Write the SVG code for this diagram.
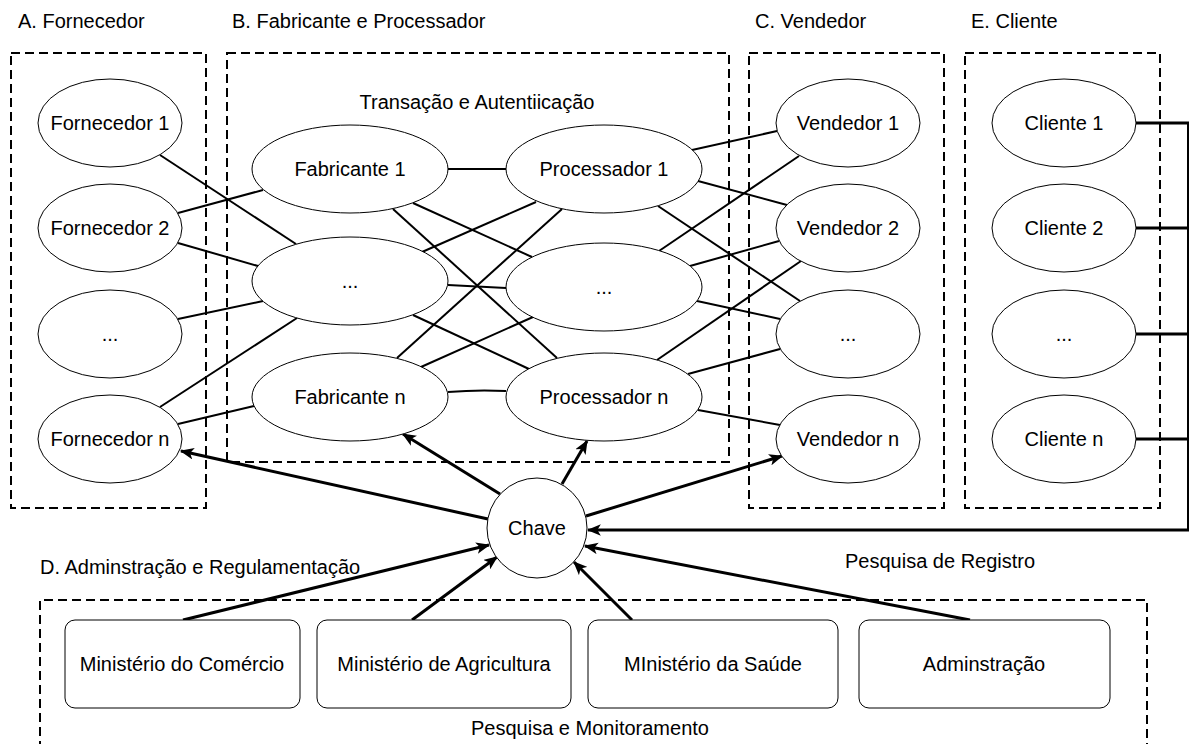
<svg xmlns="http://www.w3.org/2000/svg" width="1190" height="744" viewBox="0 0 1190 744">
  <style>
    text { font-family: "Liberation Sans", Arial, sans-serif; font-size: 20px; fill: #000; }
    .mid { text-anchor: middle; }
    .node { fill: #fff; stroke: #000; stroke-width: 1; }
    .zone { fill: none; stroke: #000; stroke-width: 2; stroke-dasharray: 9 5; }
    .link { fill: none; stroke: #000; stroke-width: 2; }
    .bus { fill: none; stroke: #000; stroke-width: 3; }
    .arrow { fill: none; stroke: #000; stroke-width: 3; marker-end: url(#head); }
  </style>
  <defs>
    <marker id="head" viewBox="0 0 12 10" refX="11" refY="5" markerWidth="14" markerHeight="12" markerUnits="userSpaceOnUse" orient="auto">
      <path d="M0,0 L12,5 L0,10 L3,5 z" fill="#000"/>
    </marker>
  </defs>
  <rect width="1190" height="744" fill="#fff"/>

  <!-- zone frames and headings -->
  <g id="zones">
    <rect class="zone" x="11" y="53" width="195" height="455"/>
    <rect class="zone" x="227" y="53" width="502" height="409"/>
    <rect class="zone" x="749" y="53" width="195" height="455"/>
    <rect class="zone" x="965" y="53" width="195" height="455"/>
    <path class="zone" d="M40,750 V600 H1147 V750"/>
    <text x="18" y="28">A. Fornecedor</text>
    <text x="232" y="28">B. Fabricante e Processador</text>
    <text x="755" y="28">C. Vendedor</text>
    <text x="971" y="28">E. Cliente</text>
    <text class="mid" x="477" y="109">Transação e Autentiicação</text>
    <text x="40" y="574">D. Adminstração e Regulamentação</text>
    <text x="845" y="568">Pesquisa de Registro</text>
    <text class="mid" x="590" y="735">Pesquisa e Monitoramento</text>
  </g>

  <!-- connectors -->
  <g id="connectors">
    <!-- suppliers to manufacturers -->
    <line class="link" x1="160" y1="155" x2="296" y2="244"/>
    <line class="link" x1="178" y1="213" x2="263" y2="190"/>
    <line class="link" x1="178" y1="243" x2="258" y2="266"/>
    <line class="link" x1="178" y1="319" x2="263" y2="301"/>
    <line class="link" x1="160" y1="407" x2="297" y2="318"/>
    <line class="link" x1="178" y1="424" x2="254" y2="406"/>
    <!-- manufacturers to processors -->
    <line class="link" x1="448" y1="169" x2="506" y2="169"/>
    <line class="link" x1="448" y1="285" x2="506" y2="288"/>
    <path class="link" d="M448,392 Q477,389.5 506,391"/>
    <line class="link" x1="413" y1="203" x2="532" y2="257"/>
    <line class="link" x1="393" y1="209" x2="557" y2="358"/>
    <line class="link" x1="422" y1="252" x2="536" y2="202"/>
    <line class="link" x1="413" y1="315" x2="529" y2="369"/>
    <line class="link" x1="397" y1="358" x2="562" y2="209"/>
    <line class="link" x1="421" y1="367" x2="533" y2="317"/>
    <!-- processors to sellers -->
    <line class="link" x1="692" y1="150" x2="777" y2="131"/>
    <line class="link" x1="698" y1="181" x2="787" y2="205"/>
    <line class="link" x1="658" y1="206" x2="800" y2="301"/>
    <line class="link" x1="659" y1="251" x2="799" y2="156"/>
    <line class="link" x1="690" y1="266" x2="779" y2="241"/>
    <line class="link" x1="697" y1="301" x2="780" y2="319"/>
    <line class="link" x1="657" y1="360" x2="801" y2="261"/>
    <line class="link" x1="688" y1="374" x2="780" y2="349"/>
    <line class="link" x1="698" y1="410" x2="780" y2="425"/>
    <!-- customers bus -->
    <line class="bus" x1="1136" y1="123" x2="1189" y2="123"/>
    <line class="bus" x1="1136" y1="228" x2="1189" y2="228"/>
    <line class="bus" x1="1136" y1="334" x2="1189" y2="334"/>
    <line class="bus" x1="1136" y1="439" x2="1189" y2="439"/>
    <line class="link" x1="1188" y1="122" x2="1188" y2="531"/>
    <line class="arrow" x1="1189" y1="530" x2="588" y2="530"/>
    <!-- key to participants -->
    <line class="arrow" x1="488" y1="519" x2="181" y2="451"/>
    <line class="arrow" x1="500" y1="494" x2="403" y2="434"/>
    <line class="arrow" x1="562" y1="484" x2="587" y2="441"/>
    <line class="arrow" x1="586" y1="516" x2="782" y2="456"/>
    <!-- administration to key -->
    <line class="arrow" x1="183" y1="620" x2="489" y2="545"/>
    <line class="arrow" x1="412" y1="620" x2="497" y2="557"/>
    <line class="arrow" x1="632" y1="620" x2="574" y2="562"/>
    <line class="arrow" x1="970" y1="620" x2="585" y2="546"/>
  </g>

  <!-- suppliers -->
  <g id="fornecedor-1"><ellipse class="node" cx="110" cy="123" rx="72" ry="44"/><text class="mid" x="110" y="130">Fornecedor 1</text></g>
  <g id="fornecedor-2"><ellipse class="node" cx="110" cy="228" rx="72" ry="44"/><text class="mid" x="110" y="235">Fornecedor 2</text></g>
  <g id="fornecedor-etc"><ellipse class="node" cx="110" cy="334" rx="72" ry="44"/><text class="mid" x="110" y="341">...</text></g>
  <g id="fornecedor-n"><ellipse class="node" cx="110" cy="439" rx="72" ry="44"/><text class="mid" x="110" y="446">Fornecedor n</text></g>

  <!-- manufacturers -->
  <g id="fabricante-1"><ellipse class="node" cx="350" cy="169" rx="98" ry="44"/><text class="mid" x="350" y="176">Fabricante 1</text></g>
  <g id="fabricante-etc"><ellipse class="node" cx="350" cy="281" rx="98" ry="44"/><text class="mid" x="350" y="288">...</text></g>
  <g id="fabricante-n"><ellipse class="node" cx="350" cy="397" rx="98" ry="44"/><text class="mid" x="350" y="404">Fabricante n</text></g>

  <!-- processors -->
  <g id="processador-1"><ellipse class="node" cx="604" cy="169" rx="98" ry="44"/><text class="mid" x="604" y="176">Processador 1</text></g>
  <g id="processador-etc"><ellipse class="node" cx="604" cy="287" rx="98" ry="44"/><text class="mid" x="604" y="294">...</text></g>
  <g id="processador-n"><ellipse class="node" cx="604" cy="397" rx="98" ry="44"/><text class="mid" x="604" y="404">Processador n</text></g>

  <!-- sellers -->
  <g id="vendedor-1"><ellipse class="node" cx="848" cy="123" rx="72" ry="44"/><text class="mid" x="848" y="130">Vendedor 1</text></g>
  <g id="vendedor-2"><ellipse class="node" cx="848" cy="228" rx="72" ry="44"/><text class="mid" x="848" y="235">Vendedor 2</text></g>
  <g id="vendedor-etc"><ellipse class="node" cx="848" cy="334" rx="72" ry="44"/><text class="mid" x="848" y="341">...</text></g>
  <g id="vendedor-n"><ellipse class="node" cx="848" cy="439" rx="72" ry="44"/><text class="mid" x="848" y="446">Vendedor n</text></g>

  <!-- customers -->
  <g id="cliente-1"><ellipse class="node" cx="1064" cy="123" rx="72" ry="44"/><text class="mid" x="1064" y="130">Cliente 1</text></g>
  <g id="cliente-2"><ellipse class="node" cx="1064" cy="228" rx="72" ry="44"/><text class="mid" x="1064" y="235">Cliente 2</text></g>
  <g id="cliente-etc"><ellipse class="node" cx="1064" cy="334" rx="72" ry="44"/><text class="mid" x="1064" y="341">...</text></g>
  <g id="cliente-n"><ellipse class="node" cx="1064" cy="439" rx="72" ry="44"/><text class="mid" x="1064" y="446">Cliente n</text></g>

  <!-- key hub -->
  <g id="chave"><circle class="node" cx="537" cy="528" r="50"/><text class="mid" x="537" y="535">Chave</text></g>

  <!-- administration bodies -->
  <g id="ministerio-comercio"><rect class="node" x="65" y="620" width="235" height="88" rx="10"/><text class="mid" x="182" y="671">Ministério do Comércio</text></g>
  <g id="ministerio-agricultura"><rect class="node" x="317" y="620" width="254" height="88" rx="10"/><text class="mid" x="444" y="671">Ministério de Agricultura</text></g>
  <g id="ministerio-saude"><rect class="node" x="588" y="620" width="250" height="88" rx="10"/><text class="mid" x="713" y="671">MInistério da Saúde</text></g>
  <g id="adminstracao"><rect class="node" x="859" y="620" width="251" height="88" rx="10"/><text class="mid" x="984" y="671">Adminstração</text></g>
</svg>
